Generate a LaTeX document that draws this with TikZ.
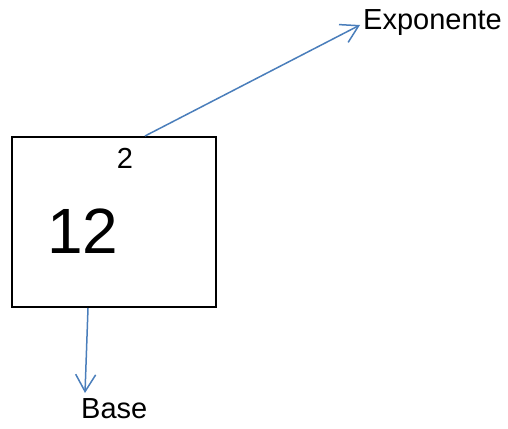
\documentclass[tikz,border=0pt]{standalone}
\usepackage{fontspec}
\setmainfont{Liberation Sans}
\usetikzlibrary{arrows.meta}
\definecolor{flecha}{HTML}{4A7EBB}
\tikzset{
	conector/.style={line width=1.5pt, color=flecha, -{Straight Barb[length=17pt,width=20pt,line width=1.5pt]}},
	rotulo/.style={inner sep=0pt, font=\fontsize{29}{31}\selectfont},
}

\begin{document}
\begin{tikzpicture}[x=1pt, y=-1pt]
			%%%%% START %%%%%
			
			\useasboundingbox (0, 0) rectangle (508, 428);
			
			\node[draw, line width=2.5pt, minimum width=204pt, minimum height=170pt, inner sep=0pt] (potencia) at (114, 222) {};
			
			\node[inner sep=0pt, anchor=base west, font=\fontsize{64}{66}\selectfont] (base12) at (47, 253) {12};
			\node[inner sep=0pt, anchor=base, font=\fontsize{29}{31}\selectfont] (expo2) at (125, 168) {2};
			
			\node[rotulo, anchor=base west] (exponente) at (363, 30) {Exponente};
			\node[rotulo, anchor=base west] (base) at (81, 418) {Base};
			
			\coordinate (salida1) at (145, 136);
			\coordinate (llegada1) at (360, 25);
			\coordinate (salida2) at (88, 308);
			\coordinate (llegada2) at (85, 393);
			
			\draw[conector] (salida1) -- (llegada1);
			\draw[conector] (salida2) -- (llegada2);
			
			%%%%% END %%%%%
		\end{tikzpicture}
\end{document}
